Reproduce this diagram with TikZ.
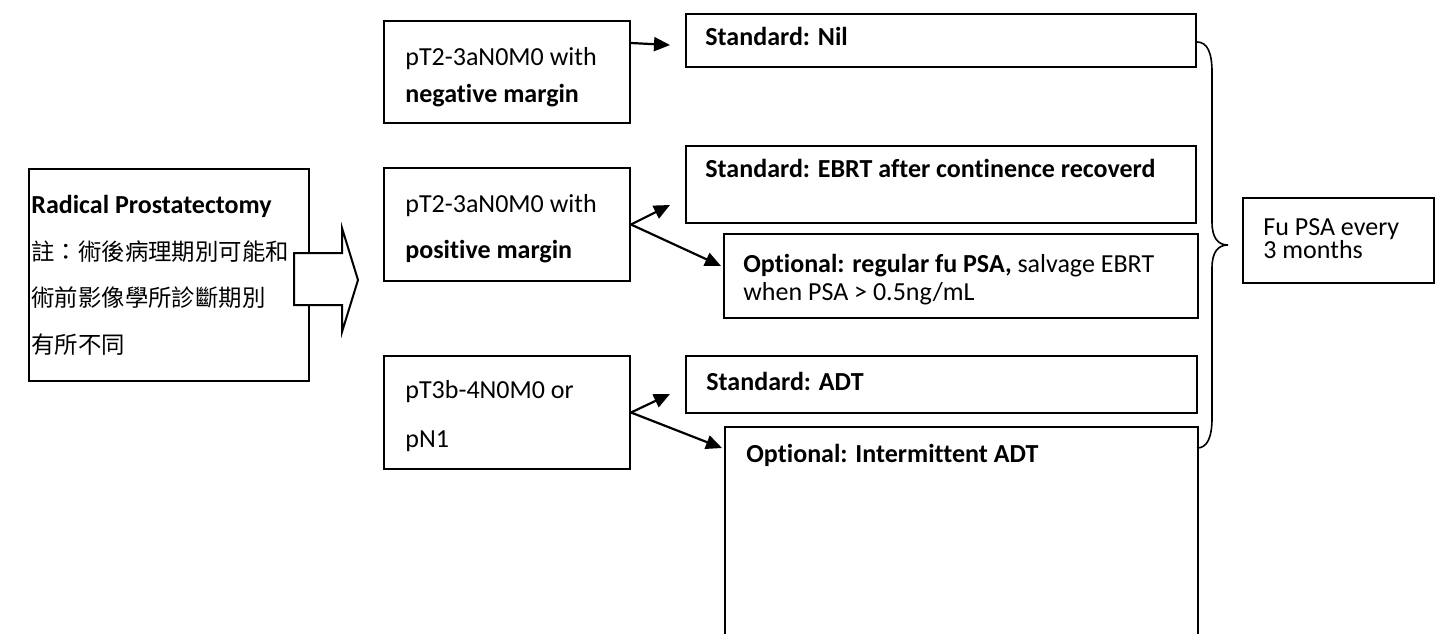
\documentclass[tikz,border=0pt]{standalone}
\usepackage{fontspec}
\setmainfont{Carlito}[Ligatures={NoCommon,NoRare}]
\newfontfamily\cjk{Noto Sans CJK TC}
\usetikzlibrary{arrows.meta,calc}
\begin{document}
\begin{tikzpicture}[x=0.5pt,y=-0.5pt,
  box/.style={draw, line width=1pt, inner sep=0pt, anchor=north west},
  txt/.style={anchor=base west, inner sep=0pt, font=\fontsize{13pt}{15pt}\selectfont},
  cjktxt/.style={anchor=west, inner sep=0pt, font=\cjk\fontsize{11.7pt}{14pt}\selectfont},
  arr/.style={line width=1.1pt, -{Triangle[length=8pt,width=7pt]}},
  brace/.style={line width=0.8pt}]
\useasboundingbox (0,0) rectangle (1440,633);

% left box
\node[box, minimum width=140pt, minimum height=106pt] (rp) at (28,168) {};
\node[txt] (rpt) at (31,213) {\textbf{Radical Prostatectomy}};
\node[cjktxt] (c1) at (31,252) {註：術後病理期別可能和};
\node[cjktxt] (c2) at (31,298) {術前影像學所診斷期別};
\node[cjktxt] (c3) at (31,345) {有所不同};

% block arrow
\draw[line width=1pt, fill=white] (294,253) -- (342,253) -- (342,228) -- (358,280)
  -- (342,332) -- (342,305) -- (294,305) -- cycle;

% middle boxes
\node[box, minimum width=123pt, minimum height=51pt] (ba) at (383,20) {};
\node[txt] (ta1) at (405,65) {pT2-3aN0M0 with};
\node[txt] (ta2) at (405,102) {\textbf{negative margin}};

\node[box, minimum width=123pt, minimum height=56.5pt] (bb) at (383,167) {};
\node[txt] (tb1) at (405,212) {pT2-3aN0M0 with};
\node[txt] (tb2) at (405,258) {\textbf{positive margin}};

\node[box, minimum width=123pt, minimum height=56.5pt] (bc) at (383,355) {};
\node[txt] (tc1) at (405,398) {pT3b-4N0M0 or};
\node[txt] (tc2) at (405,447) {pN1};

% right boxes
\node[box, minimum width=255pt, minimum height=26.5pt] (nil) at (685,13) {};
\node[txt] (tnil) at (705,45) {\textbf{Standard: Nil}};

\node[box, minimum width=255pt, minimum height=38.5pt] (ebrt) at (685,145) {};
\node[txt] (tebrt) at (705,177) {\textbf{Standard: EBRT after continence recoverd}};

\node[box, minimum width=237pt, minimum height=42pt] (psa) at (723,233) {};
\node[txt] (tpsa1) at (743,272) {\textbf{Optional: regular fu PSA,} salvage EBRT};
\node[txt] (tpsa2) at (743,300) {when PSA > 0.5ng/mL};

\node[box, minimum width=255.5pt, minimum height=28.5pt] (adt) at (685,355) {};
\node[txt] (tadt) at (706,390) {\textbf{Standard: ADT}};

\node[anchor=north west, inner sep=0pt, minimum width=236pt, minimum height=105pt] (iadt) at (725,427) {};
\draw[line width=1pt] (iadt.south west) -- (iadt.north west) -- (iadt.north east) -- (iadt.south east);
\node[txt] (tiadt) at (746,462) {\textbf{Optional: Intermittent ADT}};

% follow-up box
\node[box, minimum width=95.5pt, minimum height=42.5pt] (fu) at (1242,197) {};
\node[txt] (tfu1) at (1263,235) {Fu PSA every};
\node[txt] (tfu2) at (1263,258) {3 months};

% connectors
\draw[arr] ([yshift=-11.5pt]ba.north east) -- ($(nil.south west)+(-15,-23)$);
\draw[arr] (bb.east) -- ($(ebrt.south west)+(-15,-19)$);
\draw[arr] (bb.east) -- ($(psa.west)+(-2,-10)$);
\draw[arr] (bc.east) -- ($(adt.south west)+(-15,-20)$);
\draw[arr] (bc.east) -- ($(iadt.north west)+(-3,21)$);

% brace
\draw[brace] (1197,42) .. controls (1207,42) and (1212,52) .. (1212,72) -- (1212,222)
  .. controls (1212,238) and (1218,245) .. (1228,245)
  .. controls (1218,245) and (1212,252) .. (1212,268) -- (1212,418)
  .. controls (1212,438) and (1207,448) .. (1197,448);
\end{tikzpicture}
\end{document}
